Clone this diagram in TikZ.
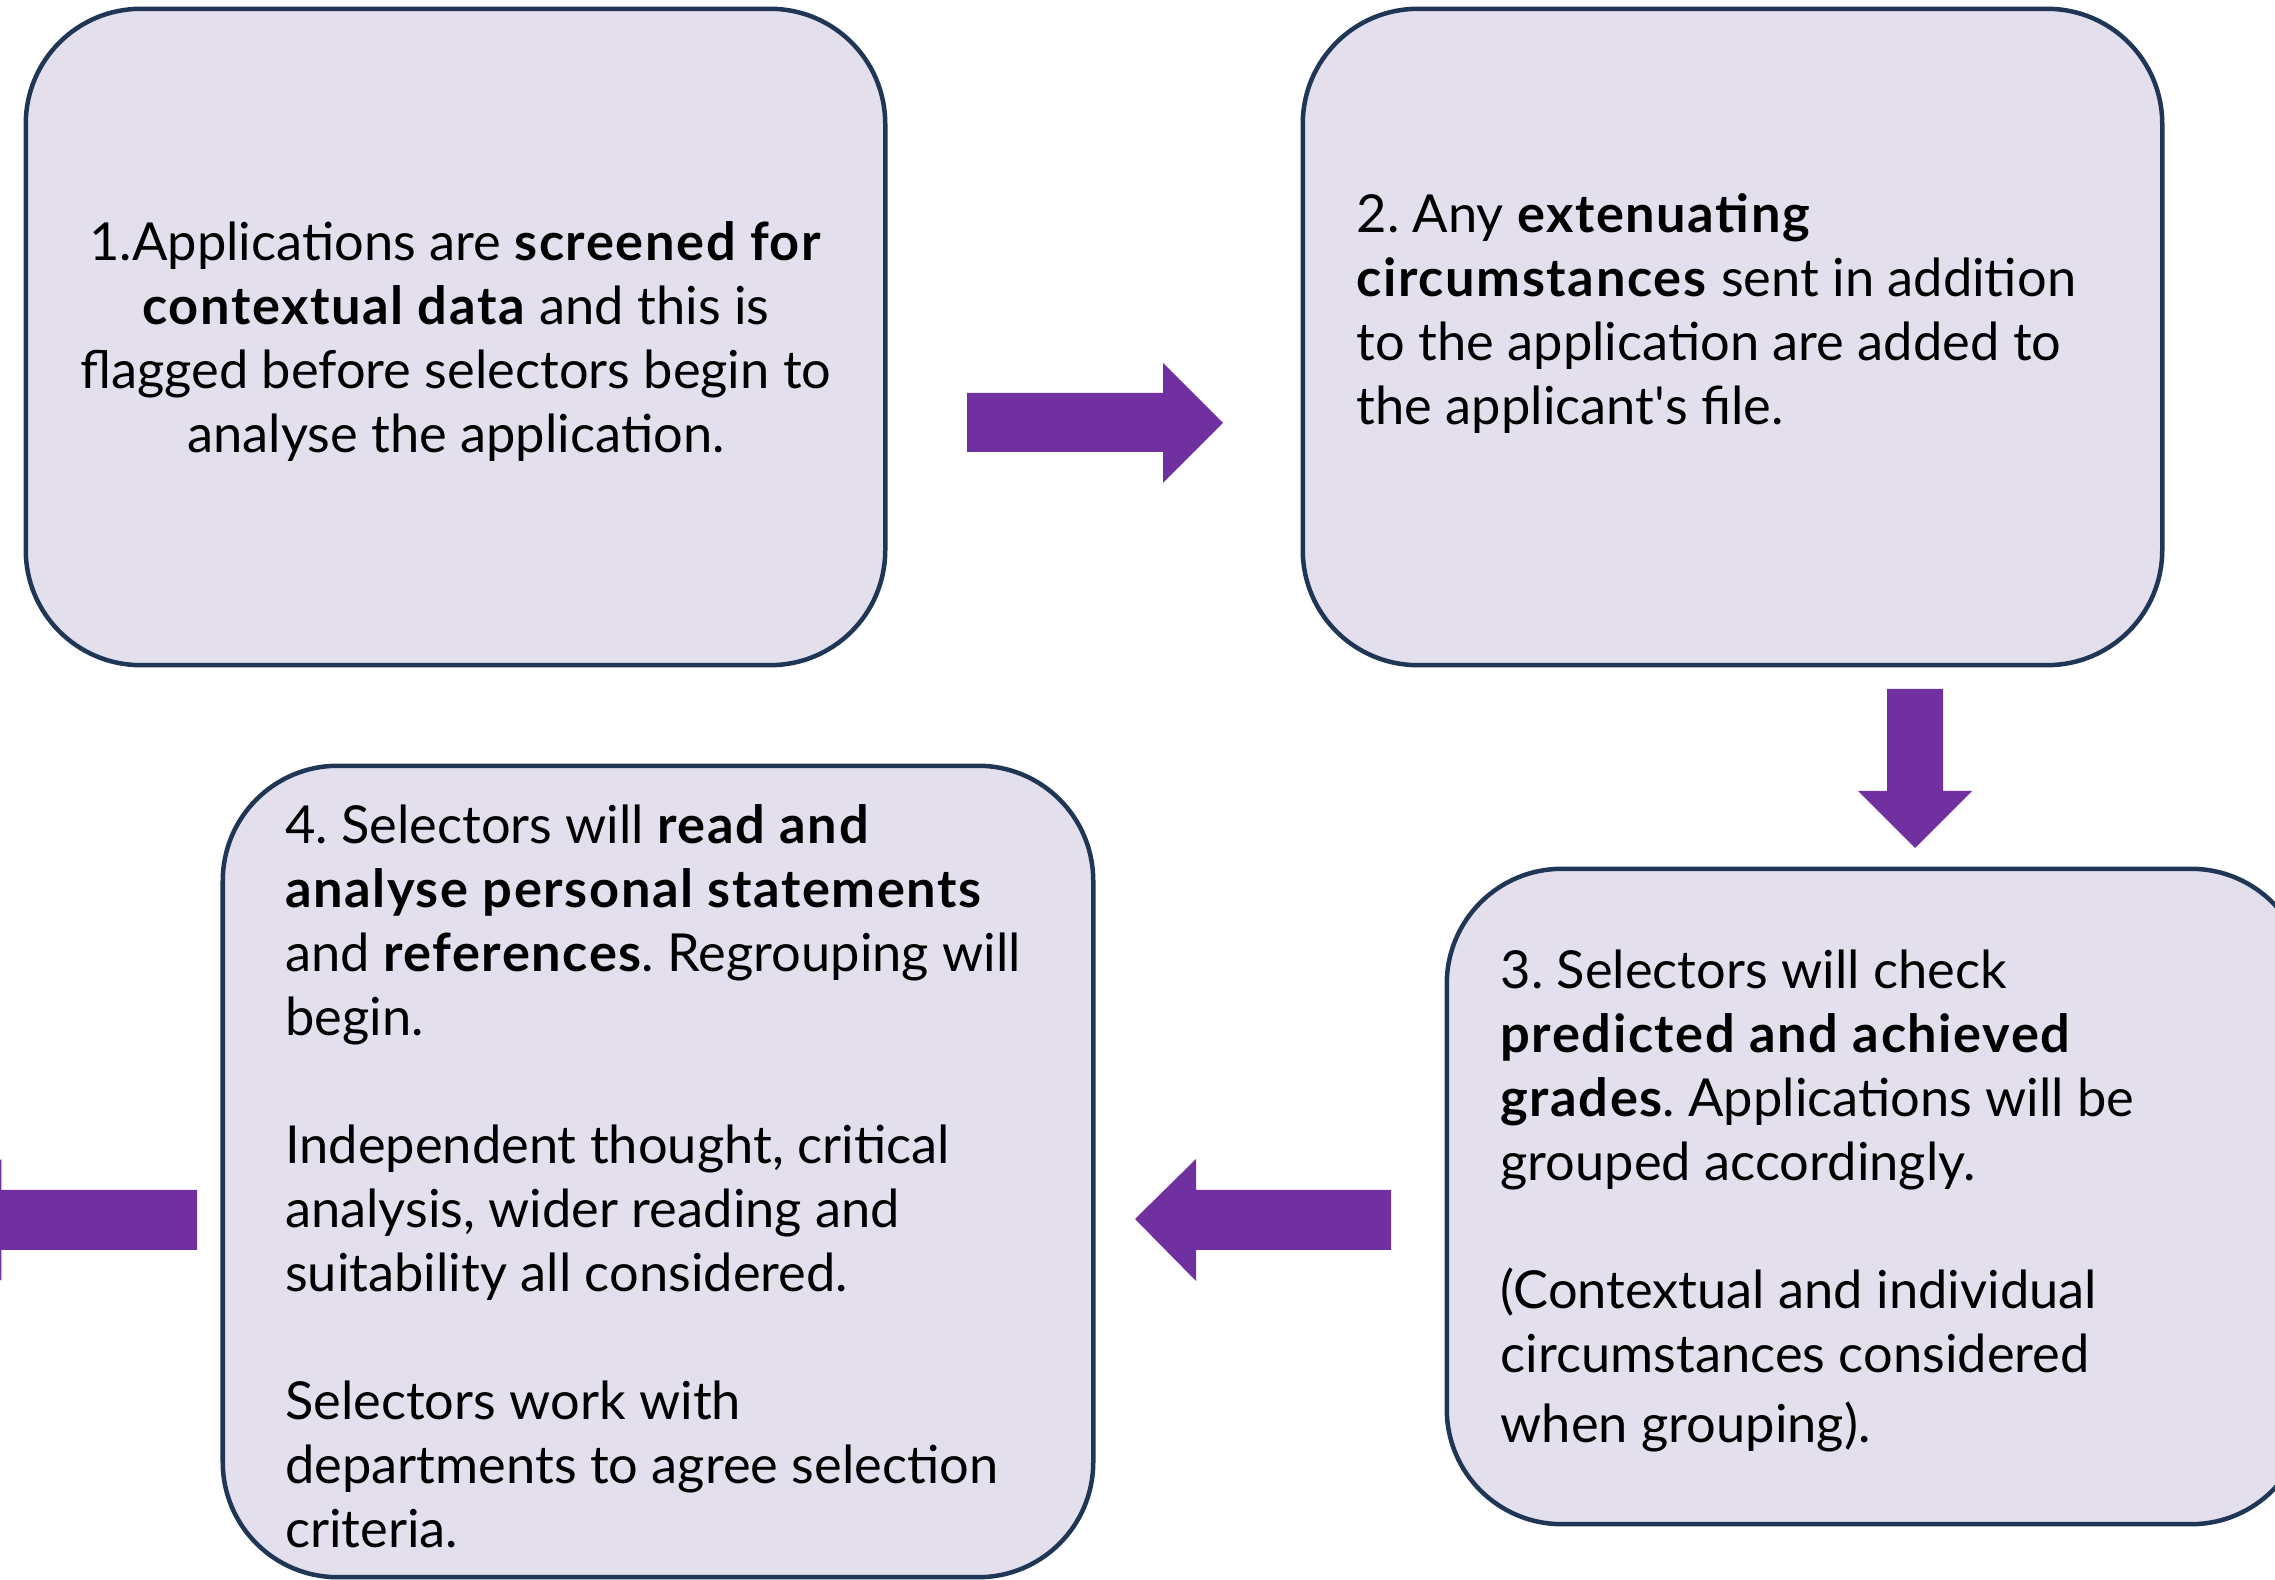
\documentclass[tikz,border=0pt]{standalone}
\usepackage{fontspec}
\setmainfont{Lato}[BoldFeatures={LetterSpace=3}]
\definecolor{boxfill}{HTML}{E4DFEC}
\definecolor{boxline}{HTML}{1F3656}
\definecolor{arrowpurple}{HTML}{7030A0}
\frenchspacing
\begin{document}
\begin{tikzpicture}[x=0.01cm,y=-0.01cm,
  stepbox/.style={draw=boxline, fill=boxfill, line width=0.045cm, rounded corners=1.15cm,
    shape=rectangle, inner sep=0pt, minimum height=6.56cm},
  blockarrow/.style={fill=arrowpurple, draw=none},
  txt/.style={inner sep=0pt, font=\fontsize{14.9pt}{0.639cm}\selectfont}
]
\useasboundingbox (0,0) rectangle (2275,1580);
\clip (0,0) rectangle (2275,1580);
% boxes
\node[stepbox, minimum width=8.59cm] (b1) at (455.5,337) {};
\node[stepbox, minimum width=8.59cm] (b2) at (1732.5,337) {};
\node[stepbox, minimum width=8.59cm, minimum height=6.55cm] (b3) at (1876.5,1196.5) {};
\node[stepbox, minimum width=8.70cm, minimum height=8.11cm] (b4) at (658,1171.5) {};
% texts
\node[txt, anchor=base] (t1) at (456,261) {\parbox[t]{8.5cm}{\centering
1.Applications are \textbf{screened for}\\
\textbf{contextual data} and this is\\
flagged before selectors begin to\\
analyse the application.}};
\node[txt, anchor=base west] (t2) at (1356,233) {\parbox[t]{8cm}{\raggedright
2. Any \textbf{extenuating}\\
\textbf{circumstances} sent in addition\\
to the application are added to\\
the applicant\textquotesingle s file.}};
\node[txt, anchor=base west] (t3) at (1500,989) {\parbox[t]{8cm}{\raggedright
3. Selectors will check\\
\textbf{predicted and achieved}\\
\textbf{grades}. Applications will be\\
grouped accordingly.\\[0.639cm]
(Contextual and individual\\
circumstances considered\\[0.06cm]
when grouping).}};
\node[txt, anchor=base west] (t4) at (284.5,844) {\parbox[t]{8.5cm}{\raggedright
4. Selectors will \textbf{read and}\\
\textbf{analyse personal statements}\\
and \textbf{references}. Regrouping will\\
begin.\\[0.639cm]
Independent thought, critical\\
analysis, wider reading and\\
suitability all considered.\\[0.639cm]
Selectors work with\\
departments to agree selection\\
criteria.}};
% block arrows
\fill[blockarrow] (967,393) -- (1163,393) -- (1163,363) -- (1223,423) -- (1163,483) -- (1163,452) -- (967,452) -- cycle;
\fill[blockarrow] (1887,689) -- (1943,689) -- (1943,791) -- (1972,791) -- (1915,848) -- (1858,791) -- (1887,791) -- cycle;
\fill[blockarrow] (1391,1190) -- (1196,1190) -- (1196,1159) -- (1135,1219) -- (1196,1281) -- (1196,1250) -- (1391,1250) -- cycle;
\fill[blockarrow] (197,1190) -- (1.5,1190) -- (1.5,1159) -- (-59,1219) -- (1.5,1281) -- (1.5,1250) -- (197,1250) -- cycle;
\end{tikzpicture}
\end{document}
